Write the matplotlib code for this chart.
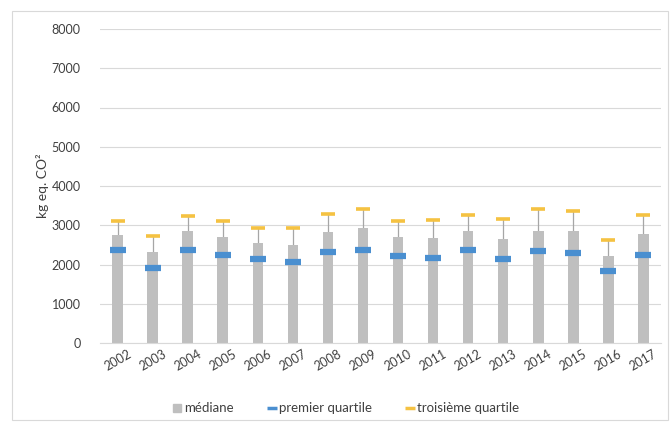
import numpy as np
import matplotlib.pyplot as plt
from matplotlib.lines import Line2D
from matplotlib.patches import Rectangle

plt.rcParams['font.family'] = ['Lato', 'DejaVu Sans']

# Data
years = ['2002', '2003', '2004', '2005', '2006', '2007', '2008', '2009',
         '2010', '2011', '2012', '2013', '2014', '2015', '2016', '2017']
mediane = [2750, 2330, 2860, 2700, 2555, 2510, 2830, 2925,
           2700, 2670, 2850, 2645, 2865, 2855, 2215, 2790]
q1 = [2365, 1925, 2385, 2255, 2155, 2070, 2325, 2365,
      2220, 2170, 2365, 2155, 2350, 2300, 1850, 2240]
q3 = [3110, 2730, 3240, 3110, 2940, 2940, 3280, 3410,
      3110, 3135, 3265, 3155, 3410, 3365, 2620, 3265]

GRAY = '#bfbfbf'
BLUE = '#4a8fd0'
GOLD = '#f5c242'
TXT = '#404040'

fig = plt.figure(figsize=(6.72, 4.30), dpi=100)
ax = fig.add_axes([0.1488, 0.2016, 0.8348, 0.7312])

x = np.arange(len(years))
ax.vlines(x, mediane, q3, color='#a6a6a6', lw=0.9, zorder=2)
ax.bar(x, mediane, width=0.3, color=GRAY, zorder=2)
ax.scatter(x, q1, marker='_', s=125, linewidths=4.5, color=BLUE, zorder=4)
ax.scatter(x, q3, marker='_', s=100, linewidths=2.6, color=GOLD, zorder=4)

ax.set_xlim(-0.5, len(years) - 0.5)
ax.set_ylim(0, 8000)
ax.set_yticks(range(0, 8001, 1000))
ax.set_xticks(x)
ax.set_xticklabels(years, rotation=30, ha='center', fontsize=9, color=TXT)
ax.tick_params(axis='y', labelsize=9, colors=TXT, length=0, pad=14)
ax.tick_params(axis='x', length=0, pad=3, colors=TXT)
ax.grid(axis='y', color='#d9d9d9', lw=0.8, zorder=0)
for s in ['top', 'right', 'left']:
    ax.spines[s].set_visible(False)
ax.spines['bottom'].set_color('#d9d9d9')
ax.set_ylabel('kg eq. CO²', fontsize=10, color=TXT, labelpad=2)

handles = [Line2D([], [], ls='none', marker='s', ms=6, color=GRAY),
           Line2D([], [], ls='none', marker='_', ms=7, mew=2.5, color=BLUE),
           Line2D([], [], ls='none', marker='_', ms=7, mew=2.5, color=GOLD)]
labels = ['médiane', 'premier quartile', 'troisième quartile']
fig.legend(handles, labels, loc='center', bbox_to_anchor=(0.515, 0.05),
           ncol=3, frameon=False, fontsize=9.5, handlelength=0.6,
           columnspacing=2.6, handletextpad=0.25, labelcolor=TXT)

fig.patches.append(Rectangle((12 / 672, 10 / 430), 656 / 672, 409 / 430,
                             transform=fig.transFigure, fill=False,
                             edgecolor='#d9d9d9', lw=0.8))

fig.savefig('out.png', dpi=100)
